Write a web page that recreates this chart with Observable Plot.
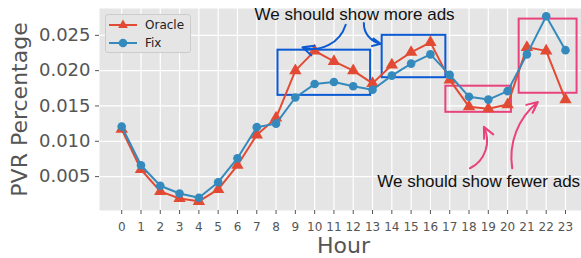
<!DOCTYPE html>
<html><head><meta charset="utf-8">
<script src="https://cdn.jsdelivr.net/npm/d3@7"></script>
<script src="https://cdn.jsdelivr.net/npm/@observablehq/plot@0.6"></script>
<style>
html,body{margin:0;padding:0;background:#fff;overflow:hidden;}
#wrap{position:relative;width:581px;height:258px;}
#wrap svg{display:block;}
.legend{position:absolute;left:105px;top:14px;width:86px;height:39px;background:#e5e5e5;border:1px solid #cccccc;border-radius:3px;box-sizing:border-box;font:12px "DejaVu Sans";color:#222;}
.legend .row{position:absolute;left:3px;height:14px;display:flex;align-items:center;}
.legend .row span{margin-left:8px;}
</style></head><body><div id="wrap"></div>
<script>
// ---- data ----
const hours = [0,1,2,3,4,5,6,7,8,9,10,11,12,13,14,15,16,17,18,19,20,21,22,23];
const oracle = [0.0117,0.0060,0.0029,0.0019,0.0015,0.0032,0.0066,0.0109,0.0133,0.0200,0.0228,0.0213,0.0200,0.0182,0.0208,0.0226,0.0240,0.0187,0.0149,0.0146,0.0152,0.0233,0.0228,0.0159];
const fix = [0.0121,0.0066,0.0037,0.0026,0.0020,0.0042,0.0076,0.0120,0.0125,0.0162,0.0181,0.0184,0.0178,0.0173,0.0193,0.0210,0.0223,0.0194,0.0163,0.0159,0.0171,0.0223,0.0277,0.0229];
const seriesNames = ["Oracle", "Fix"];
const yTicks = [0.005, 0.010, 0.015, 0.020, 0.025];

// annotation boxes (data coordinates)
const boxX1 = [8.1, 13.5, 16.8, 20.6];
const boxX2 = [12.9, 16.8, 20.2, 23.6];
const boxY1 = [0.0165, 0.0190, 0.0141, 0.0168];
const boxY2 = [0.0229, 0.0250, 0.0178, 0.0273];
const boxKind = ["more", "more", "fewer", "fewer"];

// annotation arrows (data coordinates)
const arrowX1 = [11.61, 12.55, 18.05, 20.24];
const arrowY1 = [0.02651, 0.02675, 0.00618, 0.00618];
const arrowX2 = [9.37, 13.42, 18.77, 21.57];
const arrowY2 = [0.02331, 0.02379, 0.01204, 0.01556];
const arrowKind = ["more", "more", "fewer", "fewer"];

// annotation texts
const noteText = ["We should show more ads", "We should show fewer ads"];
const noteX = [12.07, 18.5];
const noteY = [0.02799, 0.0043];

// ---- styles ----
const colors = {Oracle: "#E24A33", Fix: "#348ABD"};
const kindColor = {more: "#0a5ad4", fewer: "#e8437c"};
const bends = [45, -40, -45, 30];

const rows = [];
seriesNames.forEach(s => {
  const vals = s === "Oracle" ? oracle : fix;
  hours.forEach((h, i) => rows.push({series: s, hour: h, value: vals[i]}));
});
const boxes = boxX1.map((_, i) => ({x1: boxX1[i], x2: boxX2[i], y1: boxY1[i], y2: boxY2[i], kind: boxKind[i]}));
const arrows = arrowX1.map((_, i) => ({x1: arrowX1[i], y1: arrowY1[i], x2: arrowX2[i], y2: arrowY2[i], kind: arrowKind[i]}));
const notes = noteText.map((t, i) => ({text: t, x: noteX[i], y: noteY[i]}));

const chart = Plot.plot({
  width: 581,
  height: 258,
  marginLeft: 99,
  marginRight: 0,
  marginTop: 8,
  marginBottom: 48,
  style: {fontFamily: "DejaVu Sans", background: "white", overflow: "visible"},
  x: {domain: [-1.15, 23.83]},
  y: {domain: [0.0002, 0.0288]},
  marks: [
    Plot.frame({fill: "#e5e5e5", stroke: null}),
    Plot.gridX({ticks: hours, stroke: "white", strokeOpacity: 1, strokeWidth: 1.2}),
    Plot.gridY({ticks: yTicks, stroke: "white", strokeOpacity: 1, strokeWidth: 1.2}),
    Plot.axisX({ticks: hours, tickSize: 4, tickPadding: 8, fontSize: 12, color: "#555", label: null}),
    Plot.axisY({ticks: yTicks, tickFormat: ".3f", tickSize: 4, tickPadding: 5, fontSize: 18, color: "#555", label: null}),
    Plot.text(["Hour"], {frameAnchor: "bottom", lineAnchor: "middle", dy: 35, dx: 3, fontSize: 22, fill: "#555"}),
    Plot.text(["PVR Percentage"], {frameAnchor: "left", textAnchor: "middle", lineAnchor: "middle", rotate: -90, dx: -80, fontSize: 22, fill: "#555"}),
    Plot.rect(boxes, {x1: "x1", x2: "x2", y1: "y1", y2: "y2", fill: "none", stroke: d => kindColor[d.kind], strokeWidth: 2}),
    Plot.line(rows.filter(d => d.series === "Oracle"), {x: "hour", y: "value", stroke: colors.Oracle, strokeWidth: 2}),
    Plot.dot(rows.filter(d => d.series === "Oracle"), {x: "hour", y: "value", symbol: "triangle", r: 4.6, fill: colors.Oracle, stroke: "none"}),
    Plot.line(rows.filter(d => d.series === "Fix"), {x: "hour", y: "value", stroke: colors.Fix, strokeWidth: 2}),
    Plot.dot(rows.filter(d => d.series === "Fix"), {x: "hour", y: "value", r: 4.3, fill: colors.Fix, stroke: "none"}),
    ...arrows.map((a, i) => Plot.arrow([a], {x1: "x1", y1: "y1", x2: "x2", y2: "y2", bend: bends[i], stroke: d => kindColor[d.kind], strokeWidth: 2, headLength: 9, headAngle: 50})),
    Plot.text(notes, {x: "x", y: "y", text: "text", fontSize: 17, fontFamily: "Liberation Sans", fill: "#111"})
  ]
});
const wrap = document.getElementById("wrap");
wrap.appendChild(chart);

// legend
const leg = document.createElement("div");
leg.className = "legend";
seriesNames.forEach((s, i) => {
  const row = document.createElement("div");
  row.className = "row";
  row.style.top = (3 + i * 17.5) + "px";
  const marker = s === "Oracle"
    ? `<path d="M14,1.5 L18.8,10 L9.2,10 Z" fill="${colors[s]}"/>`
    : `<circle cx="14" cy="7" r="4.3" fill="${colors[s]}"/>`;
  row.innerHTML = `<svg width="28" height="14"><line x1="0" y1="7" x2="28" y2="7" stroke="${colors[s]}" stroke-width="2"/>${marker}</svg><span>${s}</span>`;
  leg.appendChild(row);
});
wrap.appendChild(leg);
</script>
</body></html>
